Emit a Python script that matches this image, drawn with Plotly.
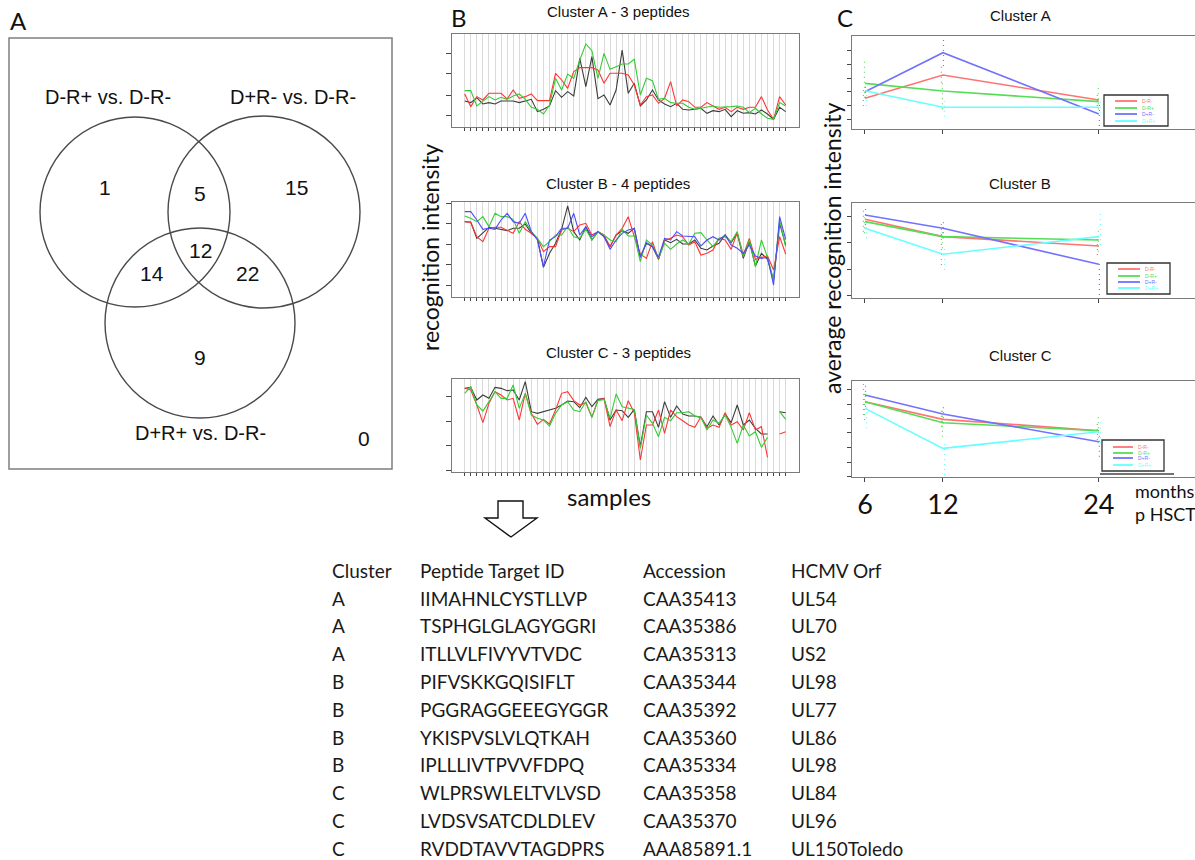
import plotly.graph_objects as go

W, H = 1195, 860


def px(x):
    return x / W


def py(y):
    return 1 - y / H


# ---------------- data ----------------
# Panel A: Venn diagram
venn_sets = ["D-R+ vs. D-R-", "D+R- vs. D-R-", "D+R+ vs. D-R-"]
venn_regions = ["1 only", "1&2", "2 only", "1&2&3", "1&3", "2&3", "3 only", "none"]
venn_counts = [1, 5, 15, 12, 14, 22, 9, 0]

# Panel B: recognition intensity per sample
samples = list(range(54))
bA_black = [79, 74, 89, 70, 74, 70, 79, 79, 79, 74, 79, 84, 47, 54, 64, 110, 90, 107, 94, 207,
            122, 212, 86, 97, 67, 112, 232, 102, 132, 64, 82, 112, 82, 70, 62, 72, 54, 52, 54, 57,
            42, 50, 47, 54, 32, 50, 42, 44, 40, 52, 40, 24, 60, 47]
bA_red = [100, 62, 92, 82, 102, 102, 102, 85, 112, 87, 92, 100, 80, 80, 80, 162, 142, 117, 167, 179,
          179, 179, 172, 132, 162, 162, 162, 157, 127, 67, 92, 97, 72, 87, 137, 64, 82, 77, 60, 60,
          74, 64, 54, 60, 47, 60, 54, 60, 60, 92, 52, 24, 92, 67]
bA_green = [110, 110, 64, 77, 92, 82, 90, 84, 94, 100, 84, 60, 54, 40, 67, 147, 112, 160, 147, 202,
            250, 230, 147, 222, 174, 182, 190, 190, 204, 97, 147, 140, 84, 87, 74, 72, 72, 60, 54, 57,
            60, 64, 60, 60, 62, 64, 60, 44, 57, 40, 27, 24, 74, 64]

bB_black = [225, 223, 175, 192, 208, 205, 202, 198, 205, 205, 218, 190, 175, 88, 130, 160, 202, 272, 195, 170,
            210, 170, 195, 180, 150, 185, 198, 190, 205, 118, 160, 150, 112, 170, 162, 172, 158, 158, 170, 145,
            140, 152, 160, 185, 162, 190, 115, 165, 92, 130, 112, 50, 220, 155]
bB_red = [225, 223, 180, 165, 205, 208, 208, 200, 190, 225, 202, 190, 175, 135, 150, 150, 200, 205, 195, 215,
          220, 185, 195, 185, 150, 185, 205, 240, 180, 128, 115, 165, 112, 170, 175, 185, 180, 155, 165, 125,
          130, 140, 175, 170, 142, 192, 125, 175, 112, 118, 122, 80, 180, 128]
bB_green = [242, 235, 225, 240, 210, 250, 240, 240, 232, 190, 225, 195, 175, 150, 165, 185, 185, 210, 180, 175,
            202, 170, 195, 185, 170, 165, 202, 182, 182, 105, 170, 155, 115, 160, 142, 158, 170, 158, 190, 192,
            170, 150, 175, 180, 165, 195, 120, 170, 90, 170, 118, 50, 230, 150]
bB_blue = [255, 255, 230, 202, 205, 202, 230, 250, 225, 220, 250, 195, 170, 90, 170, 180, 205, 205, 250, 185,
           210, 180, 195, 180, 142, 170, 190, 200, 205, 120, 162, 150, 118, 175, 170, 195, 182, 180, 180, 152,
           170, 180, 170, 185, 155, 145, 130, 155, 122, 115, 118, 35, 240, 172]

bC_black = [250, 253, 215, 230, 220, 253, 250, 243, 245, 215, 270, 180, 175, 180, 185, 190, 200, 212, 210, 192,
            223, 195, 217, 220, 155, 185, 183, 163, 187, 75, 180, 180, 133, 210, 163, 197, 173, 167, 167, 163,
            135, 167, 140, 173, 147, 200, 140, 155, 130, 113, 113, None, 180, 177]
bC_red = [250, 245, 200, 147, 205, 240, 230, 215, 220, 155, 235, 175, 142, 157, 143, 185, 235, 240, 213, 200,
          207, 163, 215, 220, 135, 185, 153, 213, 177, 35, 140, 140, 185, 115, 185, 165, 153, 140, 133, 165,
          130, 140, 133, 177, 140, 150, 125, 177, 125, 135, 43, None, 113, 120]
bC_green = [235, 255, 200, 182, 210, 240, 220, 220, 260, 190, 235, 170, 160, 155, 137, 175, 200, 210, 185, 180,
            210, 163, 213, 217, 160, 233, 195, 190, 187, 70, 170, 145, 105, 163, 153, 177, 177, 180, 167, 163,
            125, 155, 145, 170, 133, 85, 140, 107, 120, 73, 103, None, 180, 157]

bA_ticks = [34, 96, 162, 222]
bB_ticks = [35, 97, 158, 218, 280]
bC_ticks = [3, 78, 150, 225]

# Panel C: average recognition intensity vs months p HSCT
months = [6, 12, 24]
groups = ["D-R-", "D-R+", "D+R-", "D+R+"]
cA_mean = [[93, 163, 88], [138, 115, 83], [113, 230, 46], [116, 66, 66]]
cB_mean = [[237, 185, 157], [230, 185, 175], [250, 210, 102], [210, 132, 185]]
cC_mean = [[225, 172, 138], [225, 162, 138], [245, 188, 105], [205, 85, 135]]
cA_lo = [[70, 140, 70], [95, 60, 60], [95, 190, 10], [70, 38, 50]]
cA_hi = [[125, 190, 110], [208, 140, 136], [135, 273, 80], [125, 85, 90]]
cB_lo = [[200, 100, 130], [195, 150, 140], [220, 180, 10], [180, 85, 160]]
cB_hi = [[265, 230, 190], [255, 215, 210], [277, 235, 115], [240, 160, 265]]
cC_lo = [[185, 150, 110], [170, 120, 100], [210, 160, 60], [145, 5, 100]]
cC_hi = [[280, 200, 170], [250, 200, 182], [275, 220, 130], [235, 110, 165]]
cA_ticks = [30, 70, 113, 153, 196, 238]
cB_ticks = [7, 87, 167, 245]
cC_ticks = [0, 43, 87, 132, 175, 218, 262]

# Table
tbl_header = ["Cluster", "Peptide Target ID", "Accession", "HCMV Orf"]
tbl_cluster = ["A", "A", "A", "B", "B", "B", "B", "C", "C", "C"]
tbl_peptide = ["IIMAHNLCYSTLLVP", "TSPHGLGLAGYGGRI", "ITLLVLFIVYVTVDC", "PIFVSKKGQISIFLT",
               "PGGRAGGEEEGYGGR", "YKISPVSLVLQTKAH", "IPLLLIVTPVVFDPQ", "WLPRSWLELTVLVSD",
               "LVDSVSATCDLDLEV", "RVDDTAVVTAGDPRS"]
tbl_accession = ["CAA35413", "CAA35386", "CAA35313", "CAA35344", "CAA35392", "CAA35360",
                 "CAA35334", "CAA35358", "CAA35370", "AAA85891.1"]
tbl_orf = ["UL54", "UL70", "US2", "UL98", "UL77", "UL86", "UL98", "UL84", "UL96", "UL150Toledo"]

# ---------------- styles ----------------
ARIAL = "Liberation Sans, Arial, sans-serif"
CAL = "Lato, Open Sans, sans-serif"
B_COL = {"black": "#3c3c3c", "red": "#ff3535", "green": "#33cc33", "blue": "#4b4bff"}
C_COL = ["#ff7373", "#55dd55", "#7272ff", "#66ffff"]
C_OFF = [-0.12, -0.04, 0.04, 0.12]

fig = go.Figure()

# ---- Panel B traces ----
b_sets = [
    ("x", "y", [("black", bA_black), ("red", bA_red), ("green", bA_green)]),
    ("x2", "y2", [("black", bB_black), ("red", bB_red), ("green", bB_green), ("blue", bB_blue)]),
    ("x3", "y3", [("black", bC_black), ("red", bC_red), ("green", bC_green)]),
]
for xa, ya, series in b_sets:
    for col, vals in series:
        fig.add_trace(go.Scatter(x=samples, y=vals, mode="lines", xaxis=xa, yaxis=ya,
                                 line=dict(color=B_COL[col], width=1.1), showlegend=False,
                                 connectgaps=False, hoverinfo="skip"))

# ---- Panel C traces ----
c_sets = [("x4", "y4", cA_mean, cA_lo, cA_hi), ("x5", "y5", cB_mean, cB_lo, cB_hi),
          ("x6", "y6", cC_mean, cC_lo, cC_hi)]
for xa, ya, means, los, his in c_sets:
    for g in range(4):
        dx, dy = [], []
        for t in range(3):
            dx += [months[t] + C_OFF[g], months[t] + C_OFF[g], None]
            dy += [los[g][t], his[g][t], None]
        fig.add_trace(go.Scatter(x=dx, y=dy, mode="lines", xaxis=xa, yaxis=ya,
                                 line=dict(color=C_COL[g], width=1.2, dash="1px,4px"),
                                 showlegend=False, hoverinfo="skip"))
    for g in range(4):
        fig.add_trace(go.Scatter(x=months, y=means[g], mode="lines", xaxis=xa, yaxis=ya,
                                 name=groups[g], line=dict(color=C_COL[g], width=1.6),
                                 showlegend=False))

# ---- axes ----
layout = dict(width=W, height=H, margin=dict(l=0, r=0, t=0, b=0),
              paper_bgcolor="white", plot_bgcolor="white", showlegend=False)

b_dom = [(34, 127.3, bA_ticks, [0, 280]), (202.3, 296.7, bB_ticks, [0, 283]),
         (379, 471.7, bC_ticks, [0, 278])]
for i, (top, bot, ticks, yr) in enumerate(b_dom):
    n = "" if i == 0 else str(i + 1)
    layout["xaxis" + n] = dict(domain=[px(452), px(799)], range=[-2.1, 55.2], anchor="y" + n,
                               tickvals=samples, showticklabels=False, ticks="outside", ticklen=3,
                               tickcolor="#444", showgrid=True, gridcolor="#dadada", gridwidth=1,
                               showline=True, mirror=True, linecolor="#7a7a7a", linewidth=1,
                               zeroline=False, fixedrange=True)
    layout["yaxis" + n] = dict(domain=[py(bot), py(top)], range=yr, anchor="x" + n,
                               tickvals=ticks, showticklabels=False, ticks="outside", ticklen=5,
                               tickcolor="#444", showgrid=False, showline=True, mirror=True,
                               linecolor="#7a7a7a", linewidth=1, zeroline=False, fixedrange=True)

c_dom = [(35.7, 129.3, cA_ticks, [0, 281]), (203.3, 298.3, cB_ticks, [0, 285]),
         (381, 476.7, cC_ticks, [0, 287])]
for i, (top, bot, ticks, yr) in enumerate(c_dom):
    n = str(i + 4)
    last = i == 2
    layout["xaxis" + n] = dict(domain=[px(852), 1.0], range=[5.0, 31.4], anchor="y" + n,
                               tickvals=months, ticktext=[str(m) for m in months],
                               showticklabels=last, ticks="outside", ticklen=4, tickcolor="#444",
                               tickfont=dict(family=CAL, size=27, color="#111"),
                               showgrid=False, showline=True, mirror=True, linecolor="#7a7a7a",
                               linewidth=1, zeroline=False, fixedrange=True)
    layout["yaxis" + n] = dict(domain=[py(bot), py(top)], range=yr, anchor="x" + n,
                               tickvals=ticks, showticklabels=False, ticks="outside", ticklen=4,
                               tickcolor="#444", showgrid=False, showline=True, mirror=False,
                               linecolor="#7a7a7a", linewidth=1, zeroline=False, fixedrange=True)

fig.update_layout(**layout)

# ---------------- shapes ----------------
shapes = []
# Panel A box and circles
shapes.append(dict(type="rect", xref="paper", yref="paper", x0=px(9), x1=px(392), y0=py(469),
                   y1=py(38), line=dict(color="#7f7f7f", width=1.5)))
circles = [(135, 212, 95), (264, 212, 96), (200, 323, 95)]
for cx, cy, r in circles:
    shapes.append(dict(type="circle", xref="paper", yref="paper", x0=px(cx - r), x1=px(cx + r),
                       y0=py(cy + r), y1=py(cy - r), line=dict(color="#4a4a4a", width=1.4)))
# Arrow
pts = [(498, 501), (523, 501), (523, 518), (537, 518), (511, 537), (485, 518), (498, 518)]
path = "M " + " L ".join(f"{px(a):.5f},{py(b):.5f}" for a, b in pts) + " Z"
shapes.append(dict(type="path", xref="paper", yref="paper", path=path,
                   line=dict(color="#111", width=1.4), fillcolor="white"))

# Legends inside panel C
annotations = []
leg = [((1104, 1168, 95, 126), [101, 108, 114, 121], (1115, 1137)),
       ((1107, 1170, 263, 294), [269, 276, 282, 288], (1118, 1140)),
       ((1102, 1164, 440, 471), [447, 453, 458, 465], (1113, 1133))]
for (x0, x1, y0, y1), ys, (lx0, lx1) in leg:
    shapes.append(dict(type="rect", xref="paper", yref="paper", x0=px(x0), x1=px(x1), y0=py(y1),
                       y1=py(y0), line=dict(color="#333", width=1.3), fillcolor="white"))
    for g, yy in enumerate(ys):
        shapes.append(dict(type="line", xref="paper", yref="paper", x0=px(lx0), x1=px(lx1),
                           y0=py(yy), y1=py(yy), line=dict(color=C_COL[g], width=1.8)))
        annotations.append(dict(x=px(lx1 + 3), y=py(yy), xref="paper", yref="paper",
                                text=groups[g], showarrow=False, xanchor="left", yanchor="middle",
                                font=dict(family=ARIAL, size=5, color=C_COL[g])))
shapes.append(dict(type="line", xref="paper", yref="paper", x0=px(1100), x1=px(1174),
                   y0=py(474), y1=py(474), line=dict(color="#444", width=1.3)))


def ann(x, y, text, size, family=ARIAL, xanchor="center", angle=0, color="#111"):
    annotations.append(dict(x=px(x), y=py(y), xref="paper", yref="paper", text=text,
                            showarrow=False, xanchor=xanchor, yanchor="middle", textangle=angle,
                            font=dict(family=family, size=size, color=color)))


# Panel letters
ann(18, 21, "A", 24, CAL)
ann(459, 18, "B", 24, CAL)
ann(845, 18, "C", 24, CAL)

# Venn labels
ann(108, 97, venn_sets[0], 20)
ann(293, 97, venn_sets[1], 20)
ann(200, 433, venn_sets[2], 20)
venn_pos = [(105, 187), (200, 193), (296, 187), (200, 250), (152, 273), (247, 273), (200, 357),
            (364, 438)]
for (x, y), c in zip(venn_pos, venn_counts):
    ann(x, y, str(c), 21)

# Panel B titles and labels
ann(618, 12, "Cluster A - 3 peptides", 15)
ann(618, 183, "Cluster B - 4 peptides", 15)
ann(618, 352, "Cluster C - 3 peptides", 15)
ann(430, 248, "recognition intensity", 23, CAL, angle=-90)
ann(609, 496, "samples", 24, CAL)

# Panel C titles and labels
ann(1020, 15, "Cluster A", 15)
ann(1020, 183, "Cluster B", 15)
ann(1020, 355, "Cluster C", 15)
ann(832, 248, "average recognition intensity", 23, CAL, angle=-90)
ann(1133, 491, "months", 18, CAL, xanchor="left")
ann(1133, 514, "p HSCT", 18, CAL, xanchor="left")

# Table
col_x = [330, 418, 641, 789]
for cx, h in zip(col_x, tbl_header):
    ann(cx, 570, h, 19, CAL, xanchor="left", color="#1a1a1a")
for r in range(len(tbl_cluster)):
    yy = 598 + 27.8 * r
    for cx, val in zip(col_x, [tbl_cluster[r], tbl_peptide[r], tbl_accession[r], tbl_orf[r]]):
        ann(cx, yy, val, 19, CAL, xanchor="left", color="#1a1a1a")

fig.update_layout(shapes=shapes, annotations=annotations)
fig.write_html("out.html")
